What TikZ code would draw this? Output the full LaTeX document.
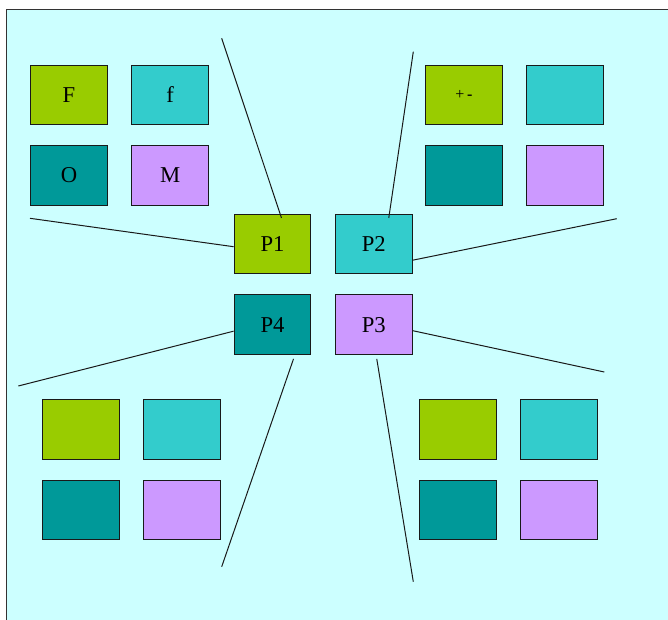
\documentclass[tikz,border=0pt]{standalone}
\usepackage{fontspec}
\setmainfont{Liberation Serif}
\usetikzlibrary{positioning}
\definecolor{lima}{HTML}{99CC00}
\definecolor{turq}{HTML}{33CCCC}
\definecolor{petrol}{HTML}{009999}
\definecolor{lila}{HTML}{CC99FF}
\definecolor{fondo}{HTML}{CCFFFF}

\begin{document}
\begin{tikzpicture}[x=0.75pt,y=-0.75pt,
        c/.style={draw=black!90,line width=0.75pt,minimum width=57.6pt,minimum height=44.6pt,inner sep=0pt,font=\fontsize{17}{20}\selectfont},
        l/.style={line width=0.75pt,draw=black!90},
        node distance=15pt and 17.6pt]
        \clip (0,0) rectangle (668,619);
        \draw[fill=fondo,line width=0.75pt,draw=black!80] (6,9.3) rectangle (690,640);
        % grupo superior izquierdo
        \node[c,fill=lima] (F) at (69,95) {F};
        \node[c,fill=turq,right=of F] (f) {f};
        \node[c,fill=petrol,below=of F] (O) {O};
        \node[c,fill=lila,right=of O] (M) {M};
        % grupo superior derecho
        \node[c,fill=lima] (pm) at (464,95) {\fontsize{12}{14}\selectfont +\,{\bfseries -}};
        \node[c,fill=turq,right=of pm] (a2) {};
        \node[c,fill=petrol,below=of pm] (b2) {};
        \node[c,fill=lila,right=of b2] (c2) {};
        % centro
        \node[c,fill=lima] (P1) at (272.5,244.2) {P1};
        \node[c,fill=turq,right=of P1] (P2) {P2};
        \node[c,fill=petrol,below=of P1] (P4) {P4};
        \node[c,fill=lila,right=of P4] (P3) {P3};
        % grupo inferior izquierdo
        \node[c,fill=lima] (a4) at (81,429.5) {};
        \node[c,fill=turq,right=of a4] (b4) {};
        \node[c,fill=petrol,below=of a4] (c4) {};
        \node[c,fill=lila,right=of c4] (d4) {};
        % grupo inferior derecho
        \node[c,fill=lima] (a3) at (458,429.5) {};
        \node[c,fill=turq,right=of a3] (b3) {};
        \node[c,fill=petrol,below=of a3] (c3) {};
        \node[c,fill=lila,right=of c3] (d3) {};
        % extremos libres
        \coordinate (t1) at (221.7,38.3);
        \coordinate (t2) at (413.3,51.7);
        \coordinate (t3) at (30,218.3);
        \coordinate (t4) at (616.7,218.7);
        \coordinate (t5) at (18.3,386);
        \coordinate (t6) at (604.3,372);
        \coordinate (t7) at (221.7,566.7);
        \coordinate (t8) at (413.3,581.7);
        \draw[l] ([shift={(9,4)}]P1.north) -- (t1);
        \draw[l] ([shift={(15,4)}]P2.north) -- (t2);
        \draw[l] ([shift={(0,2.5)}]P1.west) -- (t3);
        \draw[l] ([shift={(0,16)}]P2.east) -- (t4);
        \draw[l] ([shift={(0,6.5)}]P4.west) -- (t5);
        \draw[l] ([shift={(0,6)}]P3.east) -- (t6);
        \draw[l] ([shift={(21,4)}]P4.south) -- (t7);
        \draw[l] ([shift={(3,4)}]P3.south) -- (t8);
      \end{tikzpicture}
\end{document}
